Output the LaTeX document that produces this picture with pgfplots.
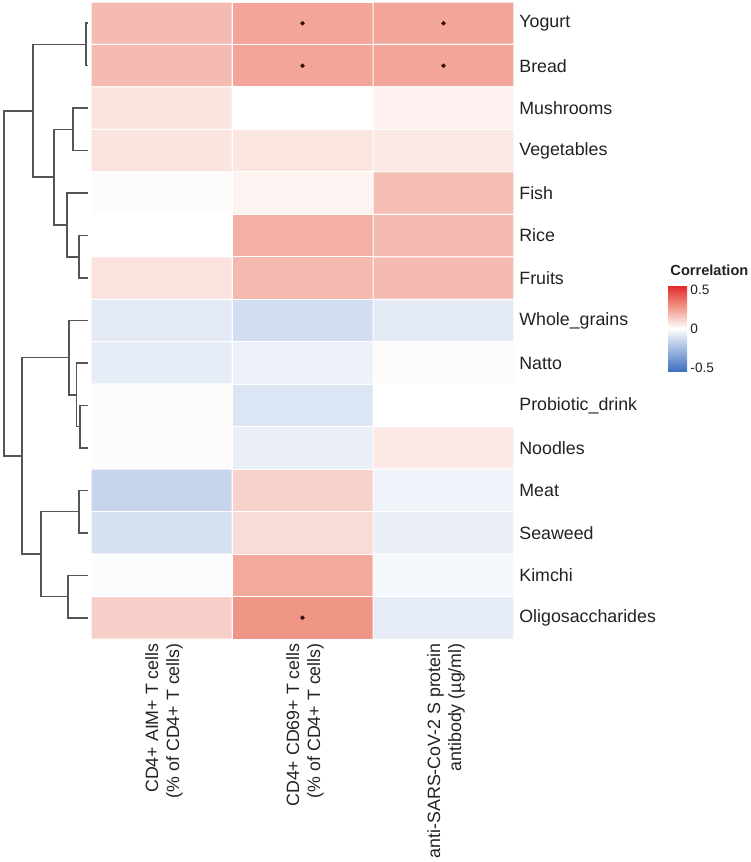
\documentclass[border=0pt]{standalone}
\usepackage{fontspec}
\setmainfont{Liberation Sans}
\usepackage{pgfplots}
\usepackage{pgfplotstable}
\pgfplotsset{compat=1.18}

\definecolor{txt}{HTML}{222222}
\definecolor{dendro}{HTML}{555555}
\definecolor{sigdot}{HTML}{3D0C0C}

\newcommand{\collab}[2]{{\fontsize{8.9}{10.5}\selectfont\begin{tabular}{@{}r@{}}#1\\#2\end{tabular}}}

% correlation of each food (row) with each immune readout (column)
\pgfplotstableread{
x y r
0 1 0.18
1 1 0.24
2 1 0.24
0 2 0.18
1 2 0.24
2 2 0.24
0 3 0.075
1 3 0.00
2 3 0.035
0 4 0.075
1 4 0.07
2 4 0.06
0 5 0.01
1 5 0.03
2 5 0.175
0 6 0.00
1 6 0.21
2 6 0.18
0 7 0.077
1 7 0.19
2 7 0.18
0 8 -0.08
1 8 -0.13
2 8 -0.08
0 9 -0.07
1 9 -0.05
2 9 0.01
0 10 0.01
1 10 -0.10
2 10 0.00
0 11 0.01
1 11 -0.06
2 11 0.06
0 12 -0.16
1 12 0.123
2 12 -0.045
0 13 -0.12
1 13 0.093
2 13 -0.06
0 14 -0.01
1 14 0.23
2 14 -0.03
0 15 0.128
1 15 0.28
2 15 -0.07
}\corrdata

% significant correlations
\pgfplotstableread{
x y
1 1
2 1
1 2
2 2
1 15
}\sigdata

\tikzset{dline/.style={dendro, line width=0.75pt, mark=none}}

\begin{document}
\begin{tikzpicture}
\useasboundingbox (0pt,0pt) rectangle (375pt,431pt);

% row dendrogram
\begin{axis}[
  at={(0pt,111.5pt)}, anchor=south west,
  scale only axis, width=45.5pt, height=318.5pt,
  xmin=0, xmax=91, ymin=0.5, ymax=15.5, y dir=reverse,
  hide axis, clip=false,
]
\addplot[dline] coordinates {(88,1) (86,1) (86,2) (88,2)};
\addplot[dline] coordinates {(88,3) (73,3) (73,4) (88,4)};
\addplot[dline] coordinates {(88,6) (79,6) (79,7) (88,7)};
\addplot[dline] coordinates {(88,5) (67,5) (67,6.5) (79,6.5)};
\addplot[dline] coordinates {(73,3.5) (54,3.5) (54,5.75) (67,5.75)};
\addplot[dline] coordinates {(86,1.5) (33,1.5) (33,4.625) (54,4.625)};
\addplot[dline] coordinates {(88,10) (80,10) (80,11) (88,11)};
\addplot[dline] coordinates {(88,9) (76.5,9) (76.5,10.5) (80,10.5)};
\addplot[dline] coordinates {(88,8) (69,8) (69,9.75) (76.5,9.75)};
\addplot[dline] coordinates {(88,12) (79,12) (79,13) (88,13)};
\addplot[dline] coordinates {(88,14) (68,14) (68,15) (88,15)};
\addplot[dline] coordinates {(79,12.5) (41,12.5) (41,14.5) (68,14.5)};
\addplot[dline] coordinates {(69,8.875) (22,8.875) (22,13.5) (41,13.5)};
\addplot[dline] coordinates {(33,3.0625) (4,3.0625) (4,11.1875) (22,11.1875)};
\end{axis}

% heatmap
\begin{axis}[
  at={(45.5pt,111.5pt)}, anchor=south west,
  scale only axis, width=211.5pt, height=318.5pt,
  xmin=-0.5, xmax=2.5, ymin=0.5, ymax=15.5, y dir=reverse,
  enlargelimits=false,
  axis line style={draw=none},
  tick style={draw=none},
  xtick={0,1,2},
  xticklabels={
    \collab{CD4+ AIM+ T cells}{(\% of CD4+ T cells)},
    \collab{CD4+ CD69+ T cells}{(\% of CD4+ T cells)},
    \collab{anti-SARS-CoV-2 S protein}{antibody (µg/ml)}},
  xticklabel style={yshift=-2pt, xshift=1.5pt, rotate=90, anchor=east, inner sep=0pt, text=txt},
  ytick={1,...,15},
  yticklabels={Yogurt,Bread,Mushrooms,Vegetables,Fish,Rice,Fruits,Whole\_grains,
    Natto,Probiotic\_drink,Noodles,Meat,Seaweed,Kimchi,Oligosaccharides},
  yticklabel pos=right,
  yticklabel style={anchor=west, inner sep=0pt, xshift=2.5pt,
    font=\fontsize{8.9}{10}\selectfont, text=txt},
  colormap={corr}{rgb255(0)=(58,109,190) rgb255(2)=(255,255,255)
    rgb255(3)=(240,150,135) rgb255(4)=(226,38,42)},
  point meta min=-0.56, point meta max=0.56,
  colorbar,
  colorbar style={
    at={(parent axis.north east)}, anchor=north west,
    xshift=68.5pt, yshift=-141.5pt,
    scale only axis, width=9.5pt, height=43.5pt,
    axis line style={draw=none},
    ytick={-0.5,0,0.5},
    yticklabels={-0.5,0,0.5},
    yticklabel pos=right,
    ytick pos=both,
    tick align=inside,
    major tick length=1.9pt,
    ytick style={white, line width=0.5pt},
    yticklabel style={inner sep=0pt, xshift=1.5pt, font=\fontsize{6.8}{8}\selectfont, text=txt},
    title={\bfseries Correlation},
    title style={at={(0,1)}, anchor=south west, inner sep=0pt, xshift=1pt, yshift=-1.5pt,
      font=\fontsize{7.3}{8}\selectfont, text=txt},
  },
]
\addplot[matrix plot*, mesh/cols=3, point meta=explicit, draw=white, line width=0.5pt]
  table[x=x, y=y, meta=r] {\corrdata};
\addplot[only marks, mark=*, mark size=0.9pt, color=sigdot] table[x=x, y=y] {\sigdata};
\end{axis}
\end{tikzpicture}
\end{document}
